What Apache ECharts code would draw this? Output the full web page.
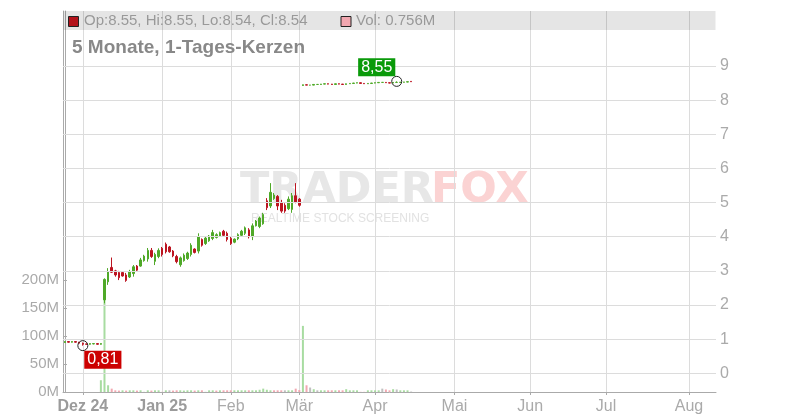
<!DOCTYPE html>
<html><head><meta charset="utf-8">
<script src="https://cdn.jsdelivr.net/npm/echarts@6/dist/echarts.min.js"></script>
<style>html,body{margin:0;padding:0;background:#fff}#c{width:800px;height:420px}</style>
</head><body><div id="c"></div>
<script>
// ---- data ----
const monthLabels = ['Dez 24','Jan 25','Feb','Mär','Apr','Mai','Jun','Jul','Aug'];
const monthSlots  = [5, 27, 46, 65, 86, 108, 129, 150, 173];
const priceTicks  = [0,1,2,3,4,5,6,7,8,9];
const volumeTicksM = [0,50,100,150,200];

const opens = [
 0.90,0.93,0.91,0.93,0.91,0.88,0.86,0.85,0.86,0.87,0.85,
 2.15,2.68,3.10,3.00,2.95,2.95,2.88,2.82,2.92,3.14,
 3.14,3.30,3.35,3.60,3.28,3.42,3.66,3.78,3.70,3.58,
 3.42,3.18,3.30,3.36,3.48,3.64,3.58,3.92,3.80,3.88,
 3.95,3.98,4.02,4.16,4.10,3.95,3.84,3.94,4.04,4.10,
 4.20,4.00,4.32,4.30,4.38,5.05,4.90,5.12,5.18,5.00,
 4.92,4.82,4.80,5.20,5.10,
 8.43,8.45,8.44,8.44,8.46,8.46,8.47,8.48,8.47,8.46,
 8.48,8.47,8.46,8.48,8.49,8.50,8.51,8.49,8.48,8.49,
 8.50,8.51,8.52,8.52,8.51,8.50,8.52,8.52,8.525,8.53,8.55
];
const closes = [
 0.93,0.91,0.93,0.91,0.88,0.85,0.85,0.87,0.87,0.85,0.87,
 2.75,2.98,2.96,2.88,2.80,2.85,2.72,2.98,3.12,3.02,
 3.32,3.43,3.60,3.42,3.48,3.60,3.48,3.56,3.56,3.44,
 3.27,3.38,3.46,3.52,3.75,3.54,4.00,3.75,3.96,4.02,
 4.12,4.06,4.12,4.04,3.92,3.80,3.93,4.06,4.16,4.26,
 4.00,4.32,4.46,4.55,4.65,4.85,5.30,5.22,4.90,4.75,
 4.75,5.10,5.20,5.02,4.92,
 8.45,8.44,8.44,8.46,8.46,8.47,8.48,8.47,8.46,8.48,
 8.47,8.46,8.48,8.49,8.50,8.51,8.49,8.48,8.49,8.50,
 8.51,8.52,8.52,8.51,8.50,8.52,8.52,8.525,8.53,8.54,8.54
];
const lows = [
 0.89,0.90,0.90,0.90,0.87,0.81,0.84,0.84,0.85,0.84,0.84,
 2.05,2.59,2.94,2.83,2.73,2.83,2.68,2.79,2.83,2.98,
 3.12,3.27,3.27,3.38,3.17,3.37,3.42,3.51,3.53,3.40,
 3.22,3.12,3.27,3.32,3.42,3.51,3.51,3.71,3.76,3.85,
 3.90,3.95,4.00,4.00,3.86,3.76,3.81,3.90,4.00,4.05,
 3.95,3.90,4.30,4.25,4.35,4.78,4.84,5.08,4.78,4.70,
 4.70,4.78,4.70,4.98,4.88,
 8.42,8.44,8.435,8.435,8.455,8.455,8.465,8.465,8.455,8.455,
 8.465,8.455,8.455,8.475,8.485,8.495,8.485,8.475,8.475,8.485,
 8.495,8.505,8.515,8.505,8.495,8.495,8.515,8.515,8.52,8.525,8.54
];
const highs = [
 0.94,0.94,0.94,0.93,0.92,0.90,0.87,0.88,0.88,0.88,0.88,
 2.78,3.08,3.39,3.03,3.00,2.98,2.94,3.03,3.17,3.17,
 3.38,3.47,3.67,3.67,3.53,3.66,3.70,3.83,3.73,3.61,
 3.47,3.42,3.51,3.56,3.81,3.66,4.10,3.95,4.00,4.05,
 4.20,4.10,4.15,4.20,4.15,4.00,3.95,4.10,4.20,4.30,
 4.25,4.39,4.49,4.59,4.70,5.13,5.57,5.28,5.22,5.08,
 4.98,5.18,5.28,5.57,5.13,
 8.455,8.455,8.445,8.465,8.465,8.475,8.485,8.485,8.475,8.485,
 8.485,8.475,8.485,8.495,8.505,8.515,8.515,8.495,8.495,8.505,
 8.515,8.525,8.525,8.525,8.515,8.525,8.55,8.53,8.535,8.545,8.55
];
// volume in millions
const volumesM = [
 0,0,0,0,0,0,0,0,0,0,21,
 165,12,6,3,2.5,3,2.5,3,3,2.5,
 3,0.3,3,2.5,3,3,0.3,3,3,2.5,
 3,3,2.5,3,3,2.5,3,3,0.3,3,
 3,2.5,3,3,3,3,3,3,3,3,
 3,3,3,4,6,4,3,3,3,3,
 3,3,3,6,3.5,
 118,12,8,5,3,3,3,3,3,3,
 3,3,5,3,3,3,0.3,0.3,3,3,
 3,3,6,4.5,3,5,4.5,3,3,3,0.756
];

// ---- chart ----
const UP = '#4fa928', DOWN = '#bc1420';
const VUP = '#a8dca1', VDOWN = '#f2a8b1', VFLAT = '#c0c0c0';
const GRID = '#dcdcdc';
const FONT = '"Liberation Sans", Arial, sans-serif';

const candleData = opens.map((o, i) => [i, o, closes[i], lows[i], highs[i]]);
const volData = volumesM.map((v, i) => {
  const prev = i > 0 ? closes[i - 1] : closes[i];
  const col = closes[i] > prev ? VUP : (closes[i] < prev ? VDOWN : VFLAT);
  return { value: [i, v * 1e6], itemStyle: { color: col } };
});
let hiIdx = 0, loIdx = 0;
highs.forEach((h, i) => { if (h > highs[hiIdx]) hiIdx = i; });
lows.forEach((l, i) => { if (l < lows[loIdx]) loIdx = i; });
const fmtDe = v => v.toFixed(2).replace('.', ',');
const last = opens.length - 1;

const chart = echarts.init(document.getElementById('c'), null, { renderer: 'canvas', width: 800, height: 420 });
chart.setOption({
  animation: false,
  textStyle: { fontFamily: FONT },
  grid: { left: 63, right: 84, top: 11, bottom: 28, containLabel: false },
  xAxis: {
    type: 'value', min: -0.5, max: 180.5,
    axisLine: { show: true, onZero: false, lineStyle: { color: '#aaa' } },
    axisTick: { show: true, customValues: monthSlots, length: 3, lineStyle: { color: '#aaa' } },
    axisLabel: {
      customValues: monthSlots, color: '#aaa', fontSize: 16, margin: 7, fontFamily: FONT,
      formatter: v => { const t = monthLabels[monthSlots.indexOf(v)] || ''; return /\d/.test(t) ? '{b|' + t + '}' : t; },
      rich: { b: { fontWeight: 'bold', color: '#9b9b9b', fontSize: 16, fontFamily: FONT } }
    },
    splitLine: { show: true, lineStyle: { color: GRID, width: 1 } }
  },
  yAxis: [
    {
      type: 'value', position: 'right', min: -0.548, max: 10.611,
      axisLine: { show: true, lineStyle: { color: '#aaa' } },
      axisTick: { show: false },
      axisLabel: { customValues: priceTicks, color: '#aaa', fontSize: 16, margin: 4, fontFamily: FONT },
      splitLine: { show: false }
    },
    {
      type: 'value', position: 'left', min: 0, max: 680e6,
      axisLine: { show: true, lineStyle: { color: '#aaa' } },
      axisTick: { show: true, inside: true, length: 4, customValues: volumeTicksM.map(v => v * 1e6), lineStyle: { color: '#aaa' } },
      axisLabel: { customValues: volumeTicksM.map(v => v * 1e6), color: '#aaa', fontSize: 15, margin: 4, fontFamily: FONT,
        formatter: v => Math.round(v / 1e6) + 'M' },
      splitLine: { show: false }
    }
  ],
  graphic: [
    { type: 'rect', z: 5, shape: { x: 63.5, y: 11, width: 652, height: 19 }, style: { fill: 'rgba(0,0,0,0.1)' } },
    { type: 'rect', z: 6, shape: { x: 68.5, y: 16.5, width: 10, height: 10 }, style: { fill: '#b3121a', stroke: '#222', lineWidth: 1 } },
    { type: 'text', z: 6, x: 84, y: 21, style: { text: 'Op:' + opens[last].toFixed(2) + ', Hi:' + highs[last].toFixed(2) + ', Lo:' + lows[last].toFixed(2) + ', Cl:' + closes[last].toFixed(2),
      fill: '#999', font: '15px ' + FONT, verticalAlign: 'middle' } },
    { type: 'rect', z: 6, shape: { x: 341, y: 16.5, width: 10, height: 10 }, style: { fill: '#f2a7b0', stroke: '#222', lineWidth: 1 } },
    { type: 'text', z: 6, x: 356, y: 21, style: { text: 'Vol: ' + volumesM[last] + 'M', fill: '#999', font: '15px ' + FONT, verticalAlign: 'middle' } },
    { type: 'text', z: 6, x: 72, y: 48, style: { text: '5 Monate, 1-Tages-Kerzen', fill: '#888', font: 'bold 19px ' + FONT, verticalAlign: 'middle' } },
    { type: 'text', z: -1, x: 240, y: 191, style: { text: 'TRADER', fill: '#e7e7e7', font: 'bold 43px "DejaVu Sans", sans-serif', verticalAlign: 'middle' } },
    { type: 'text', z: -1, x: 431, y: 191, style: { text: 'FOX', fill: '#fbd3d3', font: 'bold 43px "DejaVu Sans", sans-serif', verticalAlign: 'middle' } },
    { type: 'text', z: -1, x: 251, y: 219, style: { text: 'REALTIME STOCK SCREENING', fill: '#e2e2e2', font: '12px ' + FONT, verticalAlign: 'middle' } }
  ],
  series: [
    {
      // horizontal price grid lines, placed through the price axis scale
      type: 'line', yAxisIndex: 0, data: [], silent: true, z: 0,
      markLine: {
        silent: true, symbol: 'none', label: { show: false }, animation: false,
        lineStyle: { color: GRID, type: 'solid', width: 1 },
        emphasis: { disabled: true },
        data: priceTicks.map(v => ({ yAxis: v }))
      }
    },
    {
      type: 'bar', yAxisIndex: 1, data: volData, barWidth: 2, silent: true, z: 1
    },
    {
      type: 'candlestick', yAxisIndex: 0, z: 3,
      dimensions: ['slot', 'open', 'close', 'lowest', 'highest'],
      encode: { x: 0, y: [1, 2, 3, 4] },
      data: candleData, barWidth: 2,
      itemStyle: { color: UP, color0: DOWN, borderColor: UP, borderColor0: DOWN, borderWidth: 1 },
      markPoint: {
        symbol: 'circle', symbolSize: 10, silent: true,
        itemStyle: { color: 'rgba(0,0,0,0)', borderColor: '#222', borderWidth: 1 },
        label: { show: true, position: 'inside', color: '#fff', fontSize: 16, padding: [1, 3], fontFamily: FONT },
        data: [
          { coord: [hiIdx, highs[hiIdx]], value: highs[hiIdx],
            label: { formatter: fmtDe(highs[hiIdx]), backgroundColor: '#0a9a0a', offset: [-20, -14] } },
          { coord: [loIdx, lows[loIdx]], value: lows[loIdx],
            label: { formatter: fmtDe(lows[loIdx]), backgroundColor: '#cc0000', offset: [20, 14] } }
        ]
      }
    }
  ]
});
</script>
</body></html>
